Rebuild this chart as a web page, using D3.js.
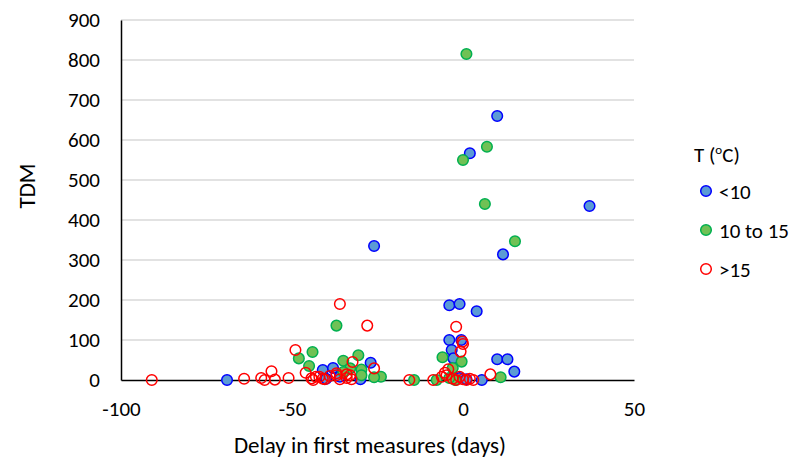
<!DOCTYPE html>
<html>
<head>
<meta charset="utf-8">
<script src="https://cdn.jsdelivr.net/npm/d3@7"></script>
<style>
  body { margin: 0; background: #fff; }
  #chart { width: 802px; height: 463px; }
  text { font-family: Carlito, Lato, "Open Sans", sans-serif; fill: #000; }
</style>
</head>
<body>
<div id="chart"></div>
<script>
// [delay (days), TDM]
const below10 = [
  [-69, 0], [-41, 25], [-38, 30], [-30, 2], [-27, 43], [-26, 335], [-36, 8], [-40, 3],
  [-4, 187], [-1, 190], [4, 172], [-4, 100], [-0.5, 100], [-3.3, 75], [-2.8, 54],
  [10, 52], [13, 52], [15, 21], [5.5, 0], [-1, 5], [1, 2],
  [2, 567], [10, 660], [37, 435], [11.7, 314]
];
const from10to15 = [
  [1, 815], [0, 550], [7, 583], [6.4, 440], [15.2, 347],
  [-48, 54], [-44, 70], [-45, 35], [-37, 136], [-30.6, 62], [-35, 48], [-29.7, 26],
  [-24, 8], [-26, 7], [-33, 29], [-29.7, 12], [-35, 20],
  [-6, 57], [-14.3, 0], [-7.7, 0], [-0.4, 46], [-2.3, 0], [-3, 30], [-4, 5], [11, 7]
];
const above15 = [
  [-91, 0], [-64, 3], [-59, 5], [-58, 0], [-56, 22], [-55, 1], [-51, 5], [-49, 75],
  [-46, 18], [-44.3, 4], [-43.8, 0], [-43, 8], [-42, 8], [-41, 3], [-40.4, 2], [-39, 10],
  [-37, 17], [-37, 12], [-36, 2], [-34, 14], [-33, 12], [-32.6, 2], [-32.3, 45], [-34, 5],
  [-36, 190], [-28, 136], [-26, 29],
  [-15.7, 0], [-8.7, 0], [-6.2, 8], [-5.3, 18], [-4.3, 27], [-4.8, 12],
  [-2, 133], [-0.2, 96], [0, 90], [-0.7, 71], [-3, 3], [-2, 0], [-1, 8], [0, 2],
  [1, 0], [2, 3], [3, 0], [8, 14]
];

const xTicks = [-100, -50, 0, 50];
const yTicks = [0, 100, 200, 300, 400, 500, 600, 700, 800, 900];

const series = [
  { name: "<10", data: below10, fill: "#5b9bd5", stroke: "#0000ff" },
  { name: "10 to 15", data: from10to15, fill: "#70c155", stroke: "#00b050" },
  { name: ">15", data: above15, fill: "none", stroke: "#ff0000" }
];

const width = 802, height = 463;
const margin = { top: 20, right: 168, bottom: 83, left: 121 };
const plotW = width - margin.left - margin.right;
const plotH = height - margin.top - margin.bottom;

const svg = d3.select("#chart").append("svg")
  .attr("width", width)
  .attr("height", height);

const g = svg.append("g")
  .attr("transform", `translate(${margin.left},${margin.top})`);

const x = d3.scaleLinear().domain([-100, 50]).range([0, plotW]);
const y = d3.scaleLinear().domain([0, 900]).range([plotH, 0]);

// gridlines
g.append("g")
  .selectAll("line")
  .data(yTicks.filter(d => d > 0))
  .join("line")
  .attr("x1", 0)
  .attr("x2", plotW)
  .attr("y1", d => y(d))
  .attr("y2", d => y(d))
  .attr("stroke", "#d9d9d9")
  .attr("stroke-width", 1.3);

// y axis
const yAxis = g.append("g")
  .call(d3.axisLeft(y).tickValues(yTicks).tickSize(0).tickPadding(21));
yAxis.select(".domain").attr("stroke", "#000").attr("stroke-width", 1.5);
yAxis.selectAll("text").style("font-size", "21px");

// x axis
const xAxis = g.append("g")
  .attr("transform", `translate(0,${plotH})`)
  .call(d3.axisBottom(x).tickValues(xTicks).tickSize(0).tickPadding(21).tickFormat(d => String(d)));
xAxis.select(".domain").attr("stroke", "#000").attr("stroke-width", 1.5);
xAxis.selectAll("text").style("font-size", "21px");

// points
series.forEach(s => {
  g.append("g")
    .selectAll("circle")
    .data(s.data)
    .join("circle")
    .attr("cx", d => x(d[0]))
    .attr("cy", d => y(d[1]))
    .attr("r", 5.3)
    .attr("fill", s.fill)
    .attr("stroke", s.stroke)
    .attr("stroke-width", 1.5);
});

// axis titles
svg.append("text")
  .attr("x", 370)
  .attr("y", 453)
  .attr("text-anchor", "middle")
  .style("font-size", "23px")
  .text("Delay in first measures  (days)");

svg.append("text")
  .attr("transform", "translate(35,186) rotate(-90)")
  .attr("text-anchor", "middle")
  .style("font-size", "23px")
  .text("TDM");

// legend
const legend = svg.append("g").attr("transform", "translate(694,0)");
const title = legend.append("text")
  .attr("x", 0)
  .attr("y", 162)
  .style("font-size", "21px");
title.append("tspan").text("T (");
title.append("tspan").attr("dy", -8).style("font-size", "13px").text("o");
title.append("tspan").attr("dy", 8).text("C)");

series.forEach((s, i) => {
  const cy = 191 + i * 39;
  legend.append("circle")
    .attr("cx", 12)
    .attr("cy", cy)
    .attr("r", 5.3)
    .attr("fill", s.fill)
    .attr("stroke", s.stroke)
    .attr("stroke-width", 1.5);
  legend.append("text")
    .attr("x", 25)
    .attr("y", cy + 7.5)
    .style("font-size", "21px")
    .text(s.name);
});
</script>
</body>
</html>
